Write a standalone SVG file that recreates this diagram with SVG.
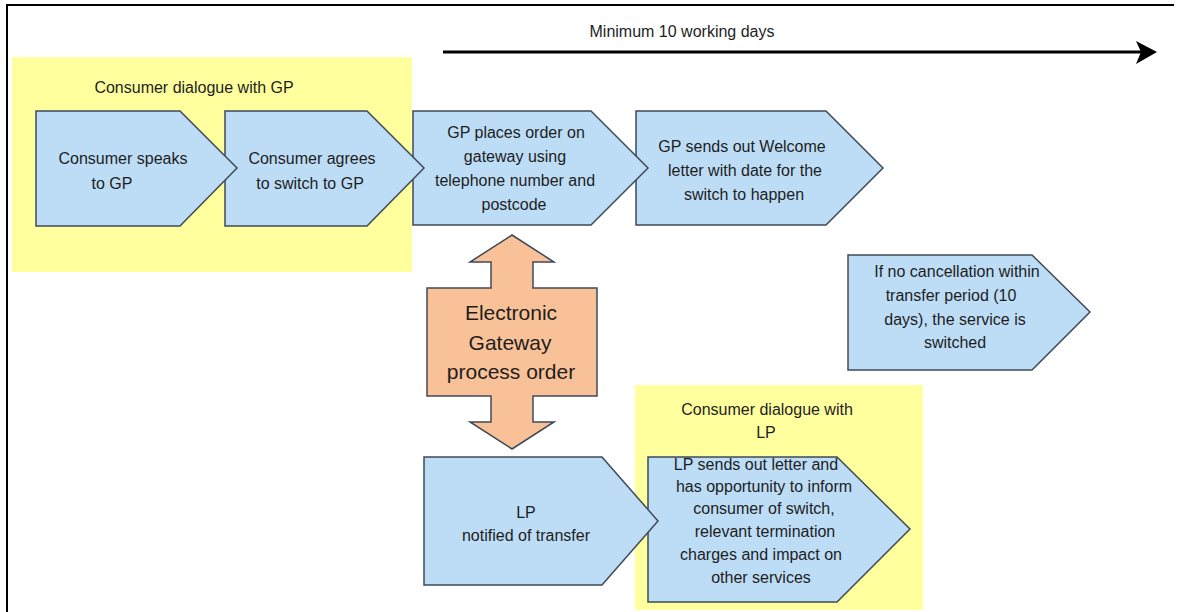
<svg xmlns="http://www.w3.org/2000/svg" width="1179" height="612" viewBox="0 0 1179 612">
<style>
.bg{fill:#ffffff}
.frame{stroke:#000;stroke-width:2;fill:none}
.zone{fill:#ffff9e}
.step{fill:#bddcf5;stroke:#3f4a58;stroke-width:1.5}
.gw{fill:#f9c197;stroke:#3f4a58;stroke-width:1.5}
text{font-family:"Liberation Sans",Arial,sans-serif;font-size:16px;fill:#1e1e1e;text-anchor:middle}
.big{font-size:21px}
</style>
<rect class="bg" x="0" y="0" width="1179" height="612"/>
<path class="frame" d="M7,612 V5 H1174"/>

<g id="zone-gp">
<rect class="zone" x="12" y="57" width="400" height="215"/>
<text x="194" y="93">Consumer  dialogue  with GP</text>
</g>
<g id="zone-lp">
<rect class="zone" x="635" y="385" width="288" height="225"/>
<text x="767" y="415">Consumer  dialogue  with</text>
<text x="766" y="438">LP</text>
</g>

<g id="connectors">
<line x1="443" y1="52" x2="1146" y2="52" stroke="#000" stroke-width="3"/>
<polygon points="1136,41 1157,52 1136,64 1141,52" fill="#000"/>
</g>
<g id="timeline-label">
<text x="682" y="37">Minimum 10 working  days</text>
</g>

<g id="step4">
<polygon class="step" points="636,111 826,111 883,168 826,225 636,225"/>
<text x="742" y="152">GP sends out Welcome</text>
<text x="745" y="176">letter with date for the</text>
<text x="744" y="200">switch to happen</text>
</g>
<g id="step3">
<polygon class="step" points="413,111 591,111 648,168 591,225 413,225"/>
<text x="516" y="138">GP places order on</text>
<text x="515" y="162">gateway using</text>
<text x="515" y="186">telephone number and</text>
<text x="514" y="210">postcode</text>
</g>
<g id="step2">
<polygon class="step" points="225,111 367,111 424,168 367,226 225,226"/>
<text x="312" y="164">Consumer agrees</text>
<text x="310" y="189">to switch to GP</text>
</g>
<g id="step1">
<polygon class="step" points="36,111 180,111 237,168 180,226 36,226"/>
<text x="123" y="164">Consumer speaks</text>
<text x="112" y="189">to  GP</text>
</g>
<g id="gateway">
<polygon class="gw" points="512,235 554,262 533,262 533,288 597,288 597,396 533,396 533,422 554,422 512,449 470,422 491,422 491,396 427,396 427,288 491,288 491,262 470,262"/>
<text class="big" x="511" y="320">Electronic</text>
<text class="big" x="510" y="350">Gateway</text>
<text class="big" x="511" y="379">process order</text>
</g>
<g id="step-lp-letter">
<polygon class="step" points="648,457 837,457 910,529 837,602 648,602"/>
<text x="756" y="470">LP sends out letter and</text>
<text x="764" y="492">has opportunity  to inform</text>
<text x="764" y="514">consumer of switch,</text>
<text x="765" y="537">relevant  termination</text>
<text x="761" y="560">charges and  impact on</text>
<text x="761" y="583">other services</text>
</g>
<g id="step-lp-notified">
<polygon class="step" points="424,457 602,457 658,521 602,585 424,585"/>
<text x="526" y="518">LP</text>
<text x="526" y="541">notified  of transfer</text>
</g>
<g id="step-switched">
<polygon class="step" points="848,255 1032,255 1090,312 1032,370 848,370"/>
<text x="957" y="277">If no cancellation within</text>
<text x="951" y="301">transfer period (10</text>
<text x="955" y="325">days), the service is</text>
<text x="955" y="348">switched</text>
</g>
</svg>
